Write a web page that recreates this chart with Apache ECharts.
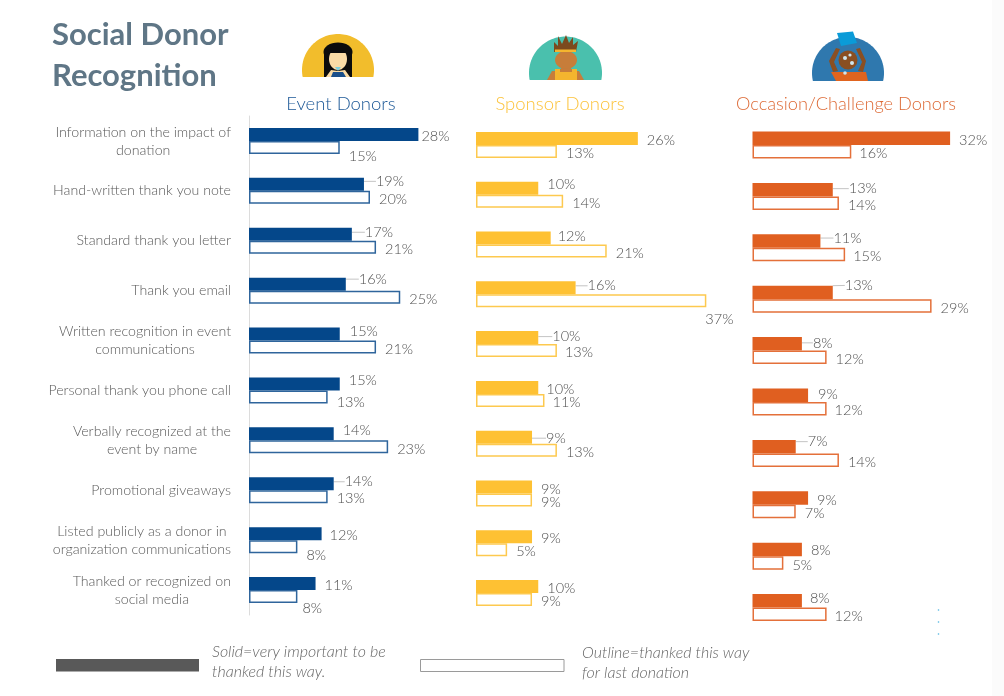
<!DOCTYPE html>
<html><head><meta charset="utf-8">
<script src="https://cdn.jsdelivr.net/npm/echarts@6/dist/echarts.min.js"></script>
<style>html,body{margin:0;padding:0;background:#fff}#c{width:1004px;height:696px}</style>
</head><body><div id="c"></div>
<script>
// ---- data ----
const categories = [
  'Information on the impact of\ndonation','Hand-written thank you note','Standard thank you letter','Thank you email',
  'Written recognition in event\ncommunications','Personal thank you phone call','Verbally recognized at the\nevent by name',
  'Promotional giveaways','Listed publicly as a donor in\norganization communications','Thanked or recognized on\nsocial media'];
const eventSolid    = [28,19,17,16,15,15,14,14,12,11];
const eventOutline  = [15,20,21,25,21,13,23,13,8,8];
const sponsorSolid  = [26,10,12,16,10,10,9,9,9,10];
const sponsorOutline= [13,14,21,37,13,11,13,9,5,9];
const occasionSolid = [32,13,11,13,8,9,7,9,8,8];
const occasionOutline=[16,14,15,29,12,12,14,7,5,12];
const headers = ['Event Donors','Sponsor Donors','Occasion/Challenge Donors'];

// ---- label placement relative to the bar end: [gap, shift], and rows with a leader line ----
const labelShift = {
  eventSolid:[[3,2],[12,-3],[13,-2],[13,-5],[10,-3],[9,-4],[9,-4],[11,-2],[8,2],[9,2]],
  eventOutline:[[9,9],[9,2],[9,2],[9,2],[9,2],[9,5],[9,2],[9,2],[9,9],[5,12]],
  sponsorSolid:[[9,2],[9,-4],[7,-2],[12,-2],[14,-1],[8,2],[14,1],[9,2],[9,2],[9,2]],
  sponsorOutline:[[9,2],[9,2],[9,2],[-1,19],[8,2],[8,2],[9,2],[9,2],[9,2],[9,2]],
  occasionSolid:[[9,2],[16,-1],[13,-3],[12,-7],[11,-1],[10,-1],[12,-5],[9,2],[9,1],[8,-3]],
  occasionOutline:[[8,2],[9,2],[8,2],[9,2],[9,2],[8,2],[9,2],[9,2],[9,2],[8,2]]
};
const leaderRows = {eventSolid:[1,2,3,7], sponsorSolid:[3,4,6], occasionSolid:[1,2,3,4,6]};

const FONT = 'Lato';
const TXT = '#505050';
const LABEL_PAD = 3;

const panels = [
  {key:'event',   solid:eventSolid,   outline:eventOutline,   color:'#04478a', line:'#2f659c', left:249, top:116, width:242, height:499, bar:13},
  {key:'sponsor', solid:sponsorSolid, outline:sponsorOutline, color:'#fec133', line:'#fdc94f', left:476, top:120,   width:249, height:498, bar:13},
  {key:'occasion',solid:occasionSolid,outline:occasionOutline,color:'#e05f20', line:'#e4703a', left:752.5, top:119.3, width:247, height:514, bar:13.5}
];

function items(values, key){
  const leaders = leaderRows[key] || [];
  return values.map((v,i)=>({value:v, labelLine:{show:leaders.includes(i)}}));
}
function barLabelLayout(key){
  return p => ({dx:labelShift[key][p.dataIndex][0]-LABEL_PAD, dy:labelShift[key][p.dataIndex][1]});
}
const barLabel = {show:true, position:'right', distance:0, padding:[0,0,0,LABEL_PAD], formatter:'{c}%', fontFamily:FONT, fontWeight:300, fontSize:14.5, color:TXT};

const grid=[], xAxis=[], yAxis=[], series=[];
panels.forEach((p,i)=>{
  grid.push({left:p.left, top:p.top, width:p.width, height:p.height});
  xAxis.push({gridIndex:i, type:'value', min:0, max:40, show:false});
  yAxis.push({gridIndex:i, type:'category', inverse:true, data:categories,
    axisLine:{show:i===0, lineStyle:{color:'#dcdcdc', width:1}}, axisTick:{show:false},
    axisLabel: i===0 ? {show:true, margin:18, align:'right', interval:0,
      formatter:s=>s.split('\n').map(l=>'{c|'+l+'}').join('\n'),
      rich:{c:{align:'center', fontFamily:FONT, fontWeight:300, fontSize:14.2, lineHeight:18, color:'#5a5a5a'}}} : {show:false}
  });
  const common = {type:'bar', xAxisIndex:i, yAxisIndex:i, barWidth:p.bar, barGap:'0%', label:barLabel,
    labelLine:{show:false, lineStyle:{color:'#c4c4c4', width:1}}};
  series.push(Object.assign({}, common, {name:headers[i]+' solid', data:items(p.solid,p.key+'Solid'),
    itemStyle:{color:p.color}, labelLayout:barLabelLayout(p.key+'Solid')}));
  series.push(Object.assign({}, common, {name:headers[i]+' outline', data:items(p.outline,p.key+'Outline'),
    itemStyle:{color:'#fff', borderColor:p.line, borderWidth:1.5}, labelLayout:barLabelLayout(p.key+'Outline')}));
});

// ---- decorative portraits ----
const circle=(cx,cy,r,fill)=>({type:'circle',shape:{cx,cy,r},style:{fill}});
const ell=(cx,cy,rx,ry,fill)=>({type:'ellipse',shape:{cx,cy,rx,ry},style:{fill}});
const rect=(x,y,width,height,fill)=>({type:'rect',shape:{x,y,width,height},style:{fill}});
const poly=(points,fill)=>({type:'polygon',shape:{points},style:{fill}});
const txt=(x,y,text)=>({type:'text',x,y,style:{text,fontFamily:FONT,fontWeight:300,fontSize:16,fill:'#666',fontStyle:'italic',verticalAlign:'middle'}});
// circle cut off flat at height yCut
function dome(cx,cy,r,yCut,fill){
  const a=Math.asin((yCut-cy)/r), pts=[];
  for(let k=0;k<=72;k++){
    const t=Math.PI-a+(k/72)*(Math.PI+2*a);
    pts.push([cx+r*Math.cos(t),cy+r*Math.sin(t)]);
  }
  return poly(pts,fill);
}

const art = [
  // event donor
  dome(338,70,36,77,'#f2bd2c'),
  rect(324,50,28,27,'#0c0c0c'), ell(338,52,14.5,9.5,'#0c0c0c'),
  ell(338,59,9,11,'#fbdca6'), rect(329,46,18,7,'#0c0c0c'),
  poly([[326,77],[331,70],[338,71],[345,70],[350,77]],'#fbdca6'),
  poly([[331,77],[333,72],[338,72],[343,72],[346,77]],'#1a4f8a'),
  poly([[335,67],[341,67],[338,71]],'#7fd0dc'),
  // sponsor donor
  dome(565.5,73,36.5,80,'#4ac0ad'),
  poly([[547,80],[552,71],[579,71],[584,80]],'#c77d3a'),
  rect(555,69,22,11,'#f4b52e'), rect(560,69,12,3,'#c77d3a'),
  rect(561,64,10,8,'#c77d3a'),
  ell(566,60,11,9,'#c77d3a'),
  poly([[554,52],[554,42],[558,46],[558,36],[562,44],[566,35],[569,43],[573,37],[573,45],[578,41],[576,52]],'#7b4a1e'),
  rect(555,49.5,21,2.5,'#f4b52e'),
  // occasion donor
  dome(848,73,36,81,'#2f78ae'),
  poly([[831,72],[866,72],[868,81],[836,81]],'#e0641f'),
  poly([[829,61],[836,48],[840,49],[834,62],[838,71],[833,72]],'#8a4f22'),
  poly([[866,61],[860,48],[856,49],[862,62],[858,71],[863,72]],'#8a4f22'),
  circle(848,60,9.5,'#8a4f22'),
  poly([[837,33],[853,31.5],[857,43],[841,46]],'#0a9bd8'),
  circle(845,58,2,'#cfe6ee'), circle(852,63,2,'#cfe6ee'), circle(850,55,1.6,'#cfe6ee'), circle(845,73,1.8,'#cfe6ee'),
  // legend keys and notes
  rect(56,659,143,12.5,'#595959'),
  {type:'rect',shape:{x:420.5,y:659.5,width:143.5,height:12},style:{fill:'#fff',stroke:'#9a9a9a',lineWidth:1}},
  txt(212,652,'Solid=very important to be'), txt(212,672,'thanked this way.'),
  txt(582,653,'Outline=thanked this way'), txt(582,673,'for last donation'),
  // stray specks and page edge
  circle(938.5,610,0.8,'#4db4e0'), circle(938.5,622,0.8,'#4db4e0'), circle(938.5,634,0.8,'#4db4e0'),
  rect(992,0,12,696,'#fbfbfb')
];

const chart = echarts.init(document.getElementById('c'), null, {renderer:'canvas'});
chart.setOption({
  animation:false, backgroundColor:'#fff',
  title:[
    {text:'Social Donor\nRecognition', left:47, top:9, textStyle:{fontFamily:FONT, fontWeight:700, fontSize:31, lineHeight:41, color:'#5f7686'}},
    {text:headers[0], left:336, top:90, textAlign:'center', textStyle:{fontFamily:FONT, fontWeight:300, fontSize:18.5, color:'#1b5796'}},
    {text:headers[1], left:555, top:90, textAlign:'center', textStyle:{fontFamily:FONT, fontWeight:300, fontSize:18.5, color:'#fcc33c'}},
    {text:headers[2], left:841, top:90, textAlign:'center', textStyle:{fontFamily:FONT, fontWeight:300, fontSize:18.2, color:'#dd6a36'}}
  ],
  grid, xAxis, yAxis, series,
  graphic:{elements:art}
});
</script></body></html>
